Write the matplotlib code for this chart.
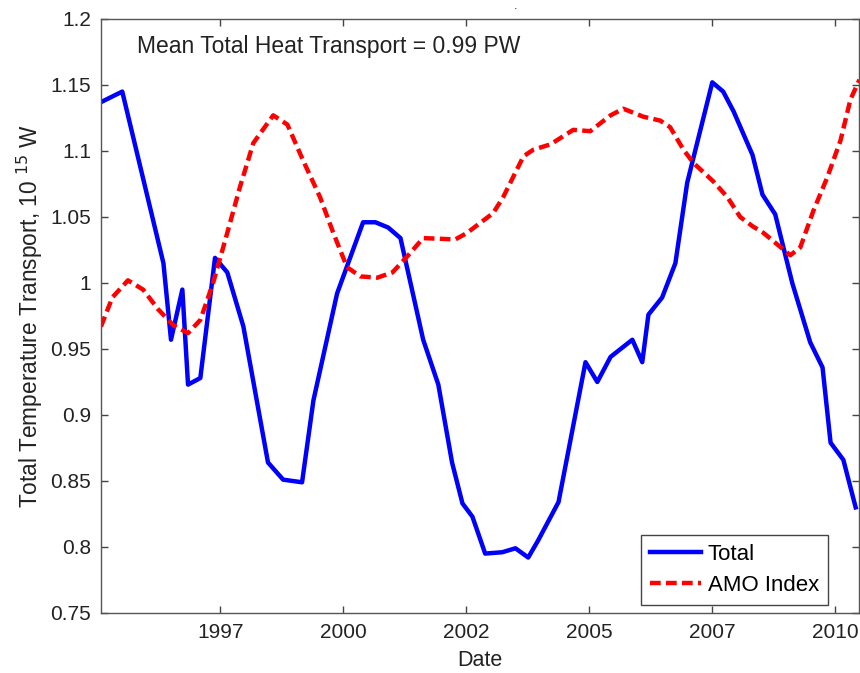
import matplotlib; matplotlib.use("Agg")
import matplotlib.pyplot as plt

plt.rcParams["font.family"] = ["Liberation Sans", "DejaVu Sans"]

# Total heat transport (PW) vs decimal year
total_year = [1994.48, 1994.93, 1995.80, 1995.96, 1996.20, 1996.32, 1996.58, 1996.89, 1997.15,
              1997.49, 1998.01, 1998.33, 1998.73, 1998.97, 1999.47, 2000.02, 2000.28, 2000.55,
              2000.81, 2001.29, 2001.61, 2001.90, 2002.12, 2002.33, 2002.60, 2002.96, 2003.24,
              2003.51, 2003.72, 2004.15, 2004.72, 2004.97, 2005.25, 2005.71, 2005.92, 2006.05,
              2006.34, 2006.62, 2006.87, 2007.40, 2007.63, 2007.85, 2008.25, 2008.46, 2008.73,
              2009.09, 2009.47, 2009.73, 2009.90, 2010.17, 2010.43]
total_val = [1.137, 1.145, 1.015, 0.957, 0.995, 0.923, 0.928, 1.019, 1.008,
             0.967, 0.864, 0.851, 0.849, 0.911, 0.992, 1.046, 1.046, 1.042,
             1.034, 0.957, 0.923, 0.864, 0.833, 0.823, 0.795, 0.796, 0.799,
             0.792, 0.805, 0.834, 0.940, 0.925, 0.944, 0.957, 0.940, 0.976,
             0.989, 1.015, 1.076, 1.152, 1.145, 1.130, 1.097, 1.067, 1.052,
             1.000, 0.955, 0.936, 0.879, 0.866, 0.830]

# AMO index (scaled to same axis)
amo_year = [1994.48, 1994.72, 1995.05, 1995.37, 1995.69, 1996.01, 1996.32, 1996.58, 1996.85,
            1997.15, 1997.42, 1997.70, 1998.12, 1998.42, 1998.75, 1999.11, 1999.39, 1999.68,
            1999.96, 2000.32, 2000.64, 2000.95, 2001.29, 2001.97, 2002.22, 2002.77, 2002.98,
            2003.41, 2003.62, 2003.98, 2004.46, 2004.82, 2005.25, 2005.52, 2005.94, 2006.30,
            2006.51, 2006.79, 2007.00, 2007.42, 2007.72, 2007.99, 2008.25, 2008.48, 2008.78,
            2009.05, 2009.26, 2009.54, 2009.83, 2010.11, 2010.32, 2010.51]
amo_val = [0.967, 0.989, 1.002, 0.995, 0.980, 0.968, 0.962, 0.972, 1.000,
           1.038, 1.073, 1.106, 1.127, 1.120, 1.093, 1.065, 1.038, 1.012,
           1.005, 1.004, 1.008, 1.020, 1.034, 1.033, 1.038, 1.053, 1.065,
           1.096, 1.101, 1.105, 1.116, 1.115, 1.127, 1.132, 1.126, 1.123,
           1.118, 1.101, 1.091, 1.077, 1.065, 1.050, 1.043, 1.038, 1.029,
           1.021, 1.027, 1.055, 1.080, 1.108, 1.139, 1.154]

xticks = [1997.0, 1999.6, 2002.2, 2004.8, 2007.4, 2010.0]
xtick_labels = ["1997", "2000", "2002", "2005", "2007", "2010"]
yticks = [0.75, 0.8, 0.85, 0.9, 0.95, 1.0, 1.05, 1.1, 1.15, 1.2]
ytick_labels = ["0.75", "0.8", "0.85", "0.9", "0.95", "1", "1.05", "1.1", "1.15", "1.2"]

fig = plt.figure(figsize=(8.6, 6.73), dpi=100)
ax = fig.add_axes([0.1174, 0.0892, 0.8814, 0.8826])

ax.plot(total_year, total_val, color="#0000ff", lw=3.2, label="Total")
ax.plot(amo_year, amo_val, color="#ff0000", lw=3.2, ls=(0, (2.4, 1.2)), label="AMO Index")

ax.set_xlim(1994.48, 2010.5)
ax.set_ylim(0.75, 1.2)
ax.set_xticks(xticks); ax.set_xticklabels(xtick_labels)
ax.set_yticks(yticks); ax.set_yticklabels(ytick_labels)
ax.tick_params(direction="in", top=True, right=True, length=5, width=1,
               labelsize=15, colors="#444444", labelcolor="#222222", pad=7)
for sp in ax.spines.values():
    sp.set_edgecolor("#555555"); sp.set_linewidth(1)

ax.set_xlabel("Date", fontsize=15.5, color="#222222", labelpad=6)
ax.set_ylabel(r"Total Temperature Transport, 10 $^{15}$ W", fontsize=16.3,
              color="#222222", labelpad=4)
ax.text(0.048, 0.953, "Mean Total Heat Transport = 0.99 PW", transform=ax.transAxes,
        fontsize=16.5, color="#222222", va="center", ha="left")
fig.text(0.6, 1.0, ".", fontsize=9, color="#222222", ha="center", va="top")

leg = ax.legend(loc="lower right", bbox_to_anchor=(0.959, 0.0135), borderaxespad=0,
                fontsize=16, handlelength=2.3, handletextpad=0.3, borderpad=0.4,
                labelspacing=0.45, fancybox=False, framealpha=1)
leg.get_frame().set_edgecolor("#444444"); leg.get_frame().set_linewidth(1)

fig.savefig("out.png", dpi=100)
